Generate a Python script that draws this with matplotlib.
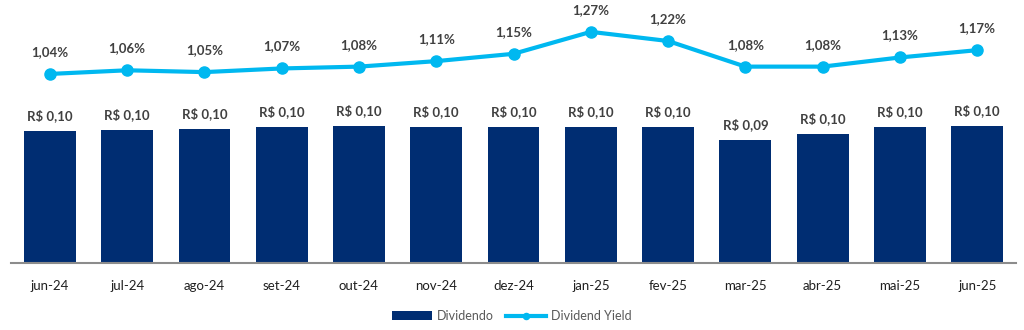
import matplotlib
matplotlib.use("Agg")
import matplotlib.pyplot as plt
import numpy as np

months = ["jun-24", "jul-24", "ago-24", "set-24", "out-24", "nov-24", "dez-24",
          "jan-25", "fev-25", "mar-25", "abr-25", "mai-25", "jun-25"]
dividendo = [0.0983, 0.0990, 0.0998, 0.1013, 0.1020, 0.1013, 0.1013,
             0.1013, 0.1013, 0.0916, 0.0961, 0.1013, 0.1020]
dividendo_labels = ["R$ 0,10", "R$ 0,10", "R$ 0,10", "R$ 0,10", "R$ 0,10", "R$ 0,10", "R$ 0,10",
                    "R$ 0,10", "R$ 0,10", "R$ 0,09", "R$ 0,10", "R$ 0,10", "R$ 0,10"]
dy = [1.04, 1.06, 1.05, 1.07, 1.08, 1.11, 1.15, 1.27, 1.22, 1.08, 1.08, 1.13, 1.17]
dy_labels = ["1,04%", "1,06%", "1,05%", "1,07%", "1,08%", "1,11%", "1,15%",
             "1,27%", "1,22%", "1,08%", "1,08%", "1,13%", "1,17%"]

plt.rcParams['font.family'] = ['Lato', 'DejaVu Sans']

BAR = "#002D72"
LINE = "#00B8F0"
TXT = "#404040"

fig = plt.figure(figsize=(10.24, 3.30), dpi=100)
ax = fig.add_axes([0.011, 0.203, 0.981, 0.797])
x = np.arange(len(months))
ax.bar(x, dividendo, width=0.67, color=BAR, label="Dividendo", zorder=2)
ax.set_xlim(-0.5, len(months) - 0.5)
ax.set_ylim(0, 0.1958)
for xi, v, lab in zip(x, dividendo, dividendo_labels):
    ax.annotate(lab, (xi, v), xytext=(0, 15), textcoords="offset pixels",
                ha="center", va="center", fontsize=9.5, fontweight="bold", color=TXT)

ax.set_xticks(x)
ax.set_xticklabels(months, fontsize=9.5, color="#202020")
ax.tick_params(axis="x", length=0, pad=12)
ax.set_yticks([])
for s in ["top", "right", "left"]:
    ax.spines[s].set_visible(False)
ax.spines["bottom"].set_color("#8c8c8c")
ax.spines["bottom"].set_linewidth(1.5)

ax2 = ax.twinx()
ax2.set_ylim(0.007, 1.444)
ax2.plot(x, dy, color=LINE, linewidth=3, marker="o", markersize=8, label="Dividend Yield", zorder=3)
for xi, v, lab in zip(x, dy, dy_labels):
    ax2.annotate(lab, (xi, v), xytext=(0, 22), textcoords="offset pixels",
                 ha="center", va="center", fontsize=9.5, fontweight="bold", color=TXT)
ax2.set_yticks([])
for s in ["top", "right", "left", "bottom"]:
    ax2.spines[s].set_visible(False)

h1, l1 = ax.get_legend_handles_labels()
h2, l2 = ax2.get_legend_handles_labels()
fig.legend(h1 + h2, l1 + l2, loc="center", bbox_to_anchor=(0.5, 0.042), ncol=2,
           frameon=False, fontsize=9, labelcolor="#595959", handlelength=3.2,
           columnspacing=1.0, handletextpad=0.4, markerscale=0.55)

fig.savefig("out.png", dpi=100)
